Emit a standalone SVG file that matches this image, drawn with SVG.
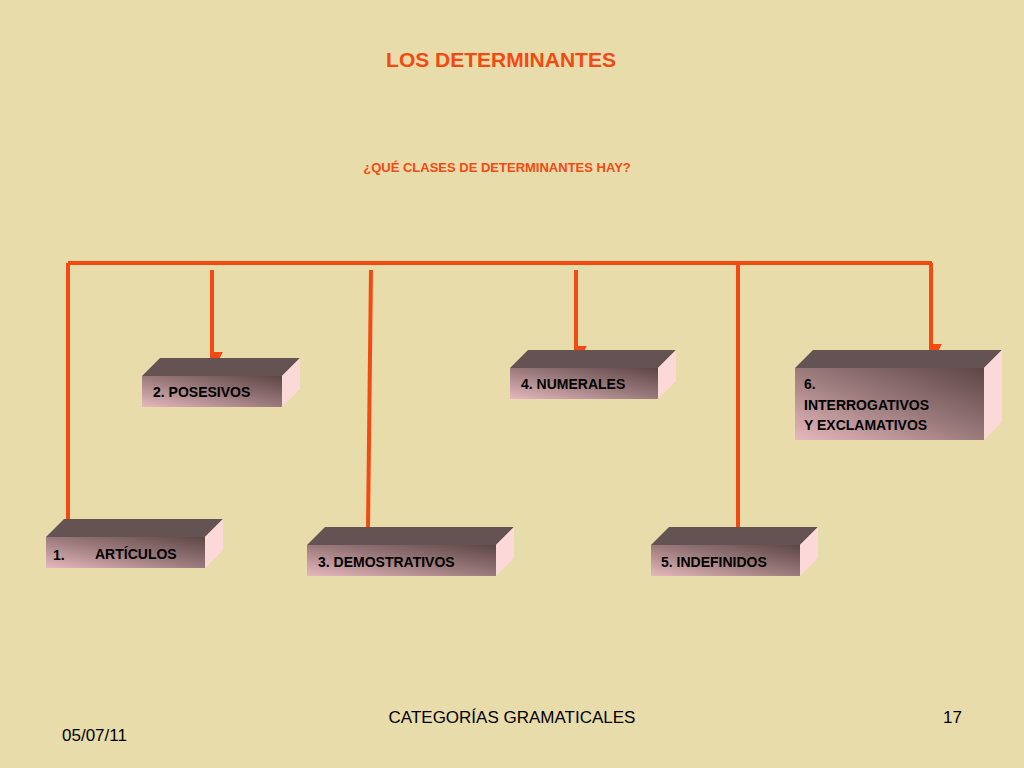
<svg xmlns="http://www.w3.org/2000/svg" width="1024" height="768" viewBox="0 0 1024 768">
<style>
.t{font-family:"Liberation Sans",Arial,sans-serif;font-weight:bold;fill:#000;font-size:14px}
.top{fill:#655252}.side{fill:#fbd9d9}.front{fill:url(#g)}
.c{stroke:#f24a12;stroke-width:4;fill:none}
</style>
<defs>
<linearGradient id="g" x1="0" y1="1" x2="1" y2="0"><stop offset="0" stop-color="#e6b8bd"/><stop offset="0.5" stop-color="#9b7a7c"/><stop offset="1" stop-color="#5e4646"/></linearGradient>
<marker id="a" viewBox="0 0 10 10" refX="5" refY="9" markerWidth="3.2" markerHeight="3" orient="auto-start-reverse" markerUnits="strokeWidth"><path d="M0,0 L10,0 L5,10Z" fill="#f24a12" transform="rotate(-90 5 5)"/></marker>
</defs>
<rect width="1024" height="768" fill="#e8dcab"/>
<text x="501" y="67" text-anchor="middle" style="font-family:'Liberation Sans',Arial,sans-serif;font-weight:bold;font-size:21px;fill:#f24a12">LOS DETERMINANTES</text>
<text x="497" y="172" text-anchor="middle" style="font-family:'Liberation Sans',Arial,sans-serif;font-weight:bold;font-size:13px;fill:#f24a12">¿QUÉ CLASES DE DETERMINANTES HAY?</text>
<g id="connectors">
<path class="c" d="M68,263 H932"/>
<path class="c" d="M68,263 V527" marker-end="url(#a)"/>
<path class="c" d="M212,270 V358" marker-end="url(#a)"/>
<path class="c" d="M371,270 L368,527"/>
<path class="c" d="M576,270 V352" marker-end="url(#a)"/>
<path class="c" d="M738,263 V527"/>
<path class="c" d="M931,263 V350" marker-end="url(#a)"/>
</g>
<g id="n1"><path class="top" d="M46,537 L64,519 H223 L205,537Z"/><path class="side" d="M205,537 L223,519 V550 L205,568Z"/><rect class="front" x="46" y="537" width="159" height="31"/><text class="t" x="53" y="560">1.</text><text class="t" x="95" y="559">ARTÍCULOS</text></g>
<g id="n2"><path class="top" d="M142,376 L160,358 H300 L282,376Z"/><path class="side" d="M282,376 L300,358 V389 L282,407Z"/><rect class="front" x="142" y="376" width="140" height="31"/><text class="t" x="153" y="397">2. POSESIVOS</text></g>
<g id="n3"><path class="top" d="M307,545 L325,527 H514 L496,545Z"/><path class="side" d="M496,545 L514,527 V558 L496,576Z"/><rect class="front" x="307" y="545" width="189" height="31"/><text class="t" x="318" y="567">3. DEMOSTRATIVOS</text></g>
<g id="n4"><path class="top" d="M510,368 L528,350 H676 L658,368Z"/><path class="side" d="M658,368 L676,350 V381 L658,399Z"/><rect class="front" x="510" y="368" width="148" height="31"/><text class="t" x="521" y="389">4. NUMERALES</text></g>
<g id="n5"><path class="top" d="M651,545 L669,527 H818 L800,545Z"/><path class="side" d="M800,545 L818,527 V558 L800,576Z"/><rect class="front" x="651" y="545" width="149" height="31"/><text class="t" x="661" y="567">5. INDEFINIDOS</text></g>
<g id="n6"><path class="top" d="M795,368 L813,350 H1002 L984,368Z"/><path class="side" d="M984,368 L1002,350 V422 L984,440Z"/><rect class="front" x="795" y="368" width="189" height="72"/><text class="t" x="804" y="389">6.</text><text class="t" x="804" y="410">INTERROGATIVOS</text><text class="t" x="804" y="430">Y EXCLAMATIVOS</text></g>
<text x="512" y="723" text-anchor="middle" style="font-family:'Liberation Sans',Arial,sans-serif;font-size:17px;fill:#000">CATEGORÍAS GRAMATICALES</text>
<text x="62" y="741" style="font-family:'Liberation Sans',Arial,sans-serif;font-size:17px;fill:#000">05/07/11</text>
<text x="962" y="723" text-anchor="end" style="font-family:'Liberation Sans',Arial,sans-serif;font-size:17px;fill:#000">17</text>
</svg>
